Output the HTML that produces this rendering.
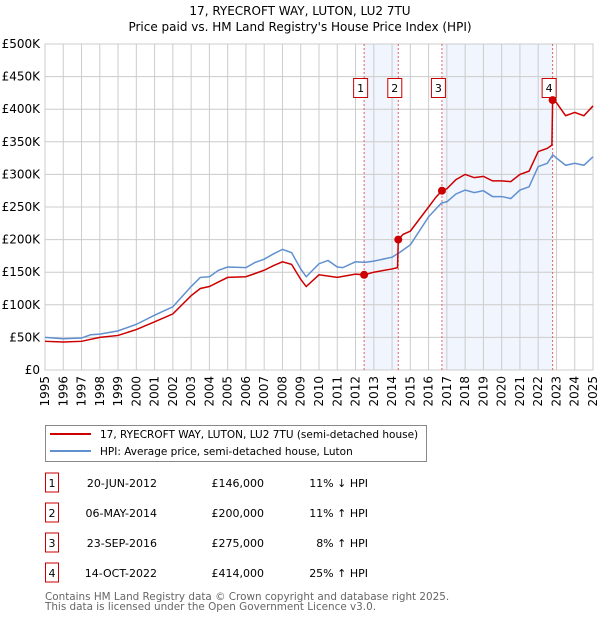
<!DOCTYPE html>
<html><head><meta charset="utf-8"><style>
body{margin:0;background:#fff;width:600px;height:620px;overflow:hidden;font-family:"DejaVu Sans","Liberation Sans",sans-serif;}
svg text{font-family:"DejaVu Sans","Liberation Sans",sans-serif;}
</style></head><body>
<svg id="chart" width="600" height="620" xmlns="http://www.w3.org/2000/svg">
<text x="300" y="15" text-anchor="middle" font-size="12">17, RYECROFT WAY, LUTON, LU2 7TU</text>
<text x="300" y="31" text-anchor="middle" font-size="12">Price paid vs. HM Land Registry's House Price Index (HPI)</text>
<g id="plot"></g>
<g>
<rect x="45.5" y="425.5" width="381" height="36" fill="#fff" stroke="#888"/>
<line x1="50" y1="434" x2="91" y2="434" stroke="#cc0000" stroke-width="2"/>
<text x="100" y="438" font-size="10.5">17, RYECROFT WAY, LUTON, LU2 7TU (semi-detached house)</text>
<line x1="50" y1="451" x2="91" y2="451" stroke="#6090d0" stroke-width="2"/>
<text x="100" y="455" font-size="10.5">HPI: Average price, semi-detached house, Luton</text>
</g>
<g id="table"></g>
<text x="45" y="600" font-size="10.4" fill="#666">Contains HM Land Registry data © Crown copyright and database right 2025.</text>
<text x="45" y="610" font-size="10.4" fill="#666">This data is licensed under the Open Government Licence v3.0.</text>
</svg>
<script>
const hpiYears=[1995,1996,1997,1997.5,1998,1999,2000,2001,2002,2003,2003.5,2004,2004.5,2005,2006,2006.5,2007,2007.5,2008,2008.5,2009,2009.3,2010,2010.5,2011,2011.3,2012,2012.5,2013,2014,2014.4,2015,2016,2016.7,2017,2017.5,2018,2018.5,2019,2019.5,2020,2020.5,2021,2021.5,2022,2022.5,2022.8,2023,2023.5,2024,2024.5,2025];
const hpiValues=[50,48,49,54,55,60,70,84,97,128,142,143,153,158,157,165,170,178,185,180,155,143,163,168,158,157,166,165,167,173,180,192,235,256,258,270,276,272,275,266,266,263,276,281,312,317,330,325,314,317,314,327];
const paidYears=[1995,1996,1997,1998,1999,2000,2001,2002,2003,2003.5,2004,2004.5,2005,2006,2006.5,2007,2007.5,2008,2008.5,2009,2009.3,2010,2011,2012,2012.47,2013,2014,2014.3,2014.34,2014.6,2015,2016,2016.4,2016.73,2017,2017.5,2018,2018.5,2019,2019.5,2020,2020.5,2021,2021.5,2022,2022.5,2022.75,2022.79,2023,2023.5,2024,2024.5,2025];
const paidValues=[44,43,44,50,53,62,74,86,114,125,128,135,142,143,148,153,160,166,162,139,128,146,142,147,146,150,155,157,200,208,213,250,265,275,278,292,300,295,297,290,290,289,300,305,335,340,345,414,410,390,395,390,405];
const saleLabels=["1","2","3","4"];
const saleYears=[2012.47,2014.34,2016.73,2022.79];
const salePrices=[146,200,275,414];
const saleDates=["20-JUN-2012","06-MAY-2014","23-SEP-2016","14-OCT-2022"];
const salePriceText=["£146,000","£200,000","£275,000","£414,000"];
const saleHpiText=["11% ↓ HPI","11% ↑ HPI","8% ↑ HPI","25% ↑ HPI"];
const yTicks=[0,50,100,150,200,250,300,350,400,450,500];
const yTickLabels=["£0","£50K","£100K","£150K","£200K","£250K","£300K","£350K","£400K","£450K","£500K"];
const xTicks=[1995,1996,1997,1998,1999,2000,2001,2002,2003,2004,2005,2006,2007,2008,2009,2010,2011,2012,2013,2014,2015,2016,2017,2018,2019,2020,2021,2022,2023,2024,2025];

const X0=45,X1=593,Y0=370,Y1=44;
const xs=y=>X0+(y-1995)/30*(X1-X0);
const ys=v=>Y0-v/500*(Y0-Y1);
const NS="http://www.w3.org/2000/svg";
function mk(tag,attrs,parent,text){const e=document.createElementNS(NS,tag);for(const k in attrs)e.setAttribute(k,attrs[k]);if(text!==undefined)e.textContent=text;parent.appendChild(e);return e;}
const plot=document.getElementById('plot');
mk('rect',{x:X0,y:Y1,width:X1-X0,height:Y0-Y1,fill:'#fff'},plot);
for(let i=0;i<saleYears.length;i+=2){
 const r=mk('rect',{x:xs(saleYears[i]),y:Y1,width:xs(saleYears[i+1])-xs(saleYears[i]),height:Y0-Y1,fill:'#eef3fc',opacity:0.8},plot);
 
 
}
yTicks.forEach((t,i)=>{
 const l=mk('line',{x1:X0,x2:X1,y1:ys(t),y2:ys(t),stroke:'#ccc'},plot);
 
 
 const tx=mk('text',{x:40,y:ys(t)+4,'text-anchor':'end','font-size':12},plot,yTickLabels[i]);
 
 
});
xTicks.forEach(t=>{
 const l=mk('line',{x1:xs(t),x2:xs(t),y1:Y1,y2:Y0,stroke:'#ccc'},plot);
 
 
 const tx=mk('text',{x:0,y:0,'font-size':12,'text-anchor':'end',transform:`translate(${xs(t)+4},${Y0+6}) rotate(-90)`},plot,String(t));
 
 
});
mk('rect',{x:X0,y:Y1,width:X1-X0,height:Y0-Y1,fill:'none',stroke:'#ccc'},plot);
saleYears.forEach((y,i)=>{
 const l=mk('line',{x1:xs(y),x2:xs(y),y1:Y1,y2:Y0,stroke:'#e06060','stroke-dasharray':'2,2','stroke-width':1},plot);
 
 
 const g=mk('g',{},plot);
 
 
 mk('rect',{x:xs(y)-10.5,y:78.5,width:14,height:19,fill:'#fff',stroke:'#cc0000'},g);
 mk('text',{x:xs(y)-3.5,y:92,'text-anchor':'middle','font-size':11},g,saleLabels[i]);
});
const hp=mk('polyline',{points:hpiYears.map((y,i)=>xs(y)+','+ys(hpiValues[i])).join(' '),fill:'none',stroke:'#6090d0','stroke-width':1.5},plot);


const pp=mk('polyline',{points:paidYears.map((y,i)=>xs(y)+','+ys(paidValues[i])).join(' '),fill:'none',stroke:'#cc0000','stroke-width':1.5},plot);


saleYears.forEach((y,i)=>{
 const c=mk('circle',{cx:xs(y),cy:ys(salePrices[i]),r:4,fill:'#cc0000'},plot);
 
 
});
const tb=document.getElementById('table');
saleLabels.forEach((s,i)=>{
 const cy=483+i*30;
 const g=mk('g',{},tb);
 
 
 mk('rect',{x:45.5,y:cy-10,width:13,height:19,fill:'#fff',stroke:'#cc0000'},g);
 mk('text',{x:52,y:cy+4,'text-anchor':'middle','font-size':11},g,s);
 mk('text',{x:157,y:cy+4,'text-anchor':'end','font-size':11},g,saleDates[i]);
 mk('text',{x:264,y:cy+4,'text-anchor':'end','font-size':11},g,salePriceText[i]);
 mk('text',{x:368,y:cy+4,'text-anchor':'end','font-size':11},g,saleHpiText[i]);
});
</script>
</body></html>
